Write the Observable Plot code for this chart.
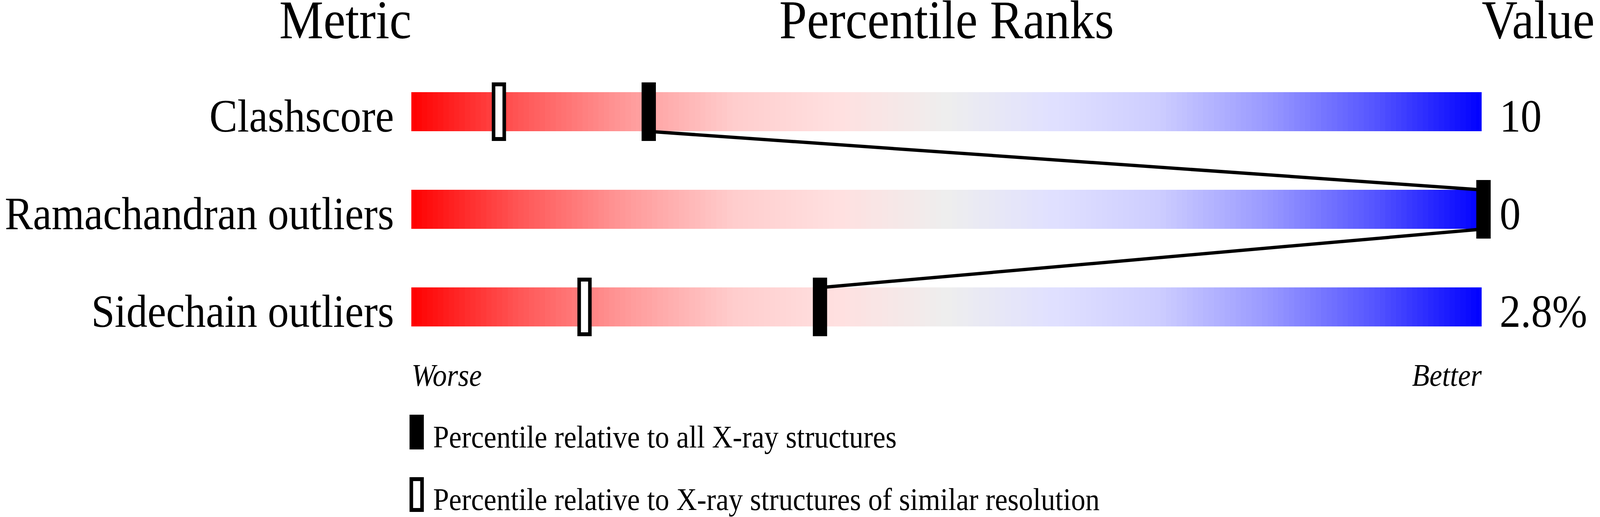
<!DOCTYPE html>
<html>
<head>
<meta charset="utf-8">
<script src="https://cdn.jsdelivr.net/npm/d3@7"></script>
<script src="https://cdn.jsdelivr.net/npm/@observablehq/plot@0.6"></script>
<style>
  html, body { margin: 0; padding: 0; background: #fff; overflow: hidden; }
  #wrap { position: absolute; left: 0; top: 0; width: 4485px; height: 1324px; overflow: hidden; background: #fff;
          font-family: "Liberation Serif", "Times New Roman", serif; transform-origin: 0 0; }
  #wrap svg { position: absolute; left: 0; top: 0; }
  .lg-box { position: absolute; box-sizing: border-box; width: 40px; height: 89px; }
  .lg-text { position: absolute; font-size: 80px; line-height: 80px; white-space: nowrap; color: #000; }
</style>
</head>
<body>
<div id="wrap"></div>
<script>
// ---- data ----
const metrics = ["Clashscore", "Ramachandran outliers", "Sidechain outliers"];
const values = ["10", "0", "2.8%"];
const pctAll = [22, 100, 38];       // percentile relative to all X-ray structures
const pctSimilar = [8, 100, 16];    // percentile relative to similar resolution
const headers = ["Metric", "Percentile Ranks", "Value"];
const scaleEnds = ["Worse", "Better"];
const legendLabels = [
  "Percentile relative to all X-ray structures",
  "Percentile relative to X-ray structures of similar resolution"
];
const gradientStops = [0, 10, 20, 30, 40, 50, 60, 70, 80, 90, 100];
const gradientColors = ["#ff0000", "#ff5555", "#ff9999", "#ffcccc", "#ffe0e0", "#eeeeee",
                        "#e0e0ff", "#ccccff", "#9999ff", "#5555ff", "#0000ff"];

// ---- derived tables ----
const rows = metrics.map((m, i) => ({metric: m, row: i, value: values[i], all: pctAll[i], similar: pctSimilar[i]}));
const step = 0.5;
const cells = rows.flatMap(r => d3.range(0, 100, step).map(p => ({row: r.row, p0: p, p1: p + step, c: p + step / 2})));
const links = rows.slice(0, -1).map((r, i) => ({x1: r.all, y1: r.row + 0.7, x2: rows[i + 1].all, y2: rows[i + 1].row + 0.3}));

const font = "Liberation Serif, Times New Roman, serif";
const W = 4485, H = 1324;

const chart = Plot.plot({
  width: W,
  height: 1010,
  marginLeft: 1153,
  marginRight: 332,
  marginTop: 161,
  marginBottom: 99,
  style: {fontFamily: font, background: "white", color: "black", overflow: "visible", maxWidth: "none"},
  x: {domain: [0, 100], axis: null},
  y: {domain: [0, 3], reverse: true, axis: null},
  color: {type: "linear", domain: gradientStops, range: gradientColors, interpolate: "rgb"},
  marks: [
    // gradient bars
    Plot.rect(cells, {x1: "p0", x2: "p1", y1: d => d.row + 0.3, y2: d => d.row + 0.7, fill: "c", shapeRendering: "crispEdges"}),
    // connecting line between "all" markers
    Plot.link(links, {x1: "x1", y1: "y1", x2: "x2", y2: "y2", stroke: "black", strokeWidth: 8.5, dx: 5}),
    // open markers (similar resolution)
    Plot.ruleX(rows, {x: "similar", y1: d => d.row + 0.2, y2: d => d.row + 0.8, stroke: "black", strokeWidth: 40, dx: 5}),
    Plot.ruleX(rows, {x: "similar", y1: d => d.row + 0.24, y2: d => d.row + 0.76, stroke: "white", strokeWidth: 20, dx: 5}),
    // filled markers (all structures)
    Plot.ruleX(rows, {x: "all", y1: d => d.row + 0.2, y2: d => d.row + 0.8, stroke: "black", strokeWidth: 40, dx: 5}),
    // metric labels
    Plot.text(rows, {x: d => 0, y: d => d.row + 0.7, text: "metric", textAnchor: "end", lineAnchor: "bottom",
                     dx: -49, fontSize: 118, fill: "black"}),
    // values
    Plot.text(rows, {x: d => 100, y: d => d.row + 0.7, text: "value", textAnchor: "start", lineAnchor: "bottom",
                     dx: 50, fontSize: 118, fill: "black"}),
    // headers
    Plot.text([headers[0]], {x: d => 0, frameAnchor: "top", text: d => d, textAnchor: "end", lineAnchor: "bottom", dy: -64, fontSize: 139, fill: "black"}),
    Plot.text([headers[1]], {x: d => 50, frameAnchor: "top", text: d => d, textAnchor: "middle", lineAnchor: "bottom", dy: -64, fontSize: 139, fill: "black"}),
    Plot.text([headers[2]], {x: d => 100, frameAnchor: "top", text: d => d, textAnchor: "start", lineAnchor: "bottom", dy: -64, fontSize: 139, fill: "black"}),
    // worse / better
    Plot.text([scaleEnds[0]], {x: d => 0, frameAnchor: "bottom", text: d => d, textAnchor: "start", lineAnchor: "bottom", dy: 76, fontSize: 80, fontStyle: "italic", fill: "black"}),
    Plot.text([scaleEnds[1]], {x: d => 100, frameAnchor: "bottom", text: d => d, textAnchor: "end", lineAnchor: "bottom", dy: 76, fontSize: 80, fontStyle: "italic", fill: "black"})
  ]
});

const wrap = document.getElementById("wrap");
wrap.appendChild(chart);

// ---- legend (HTML, below the SVG) ----
const legendStyles = [
  {boxTop: 1062, filled: true},
  {boxTop: 1222, filled: false}
];
legendLabels.forEach((label, i) => {
  const s = legendStyles[i];
  const box = document.createElement("div");
  box.className = "lg-box";
  box.style.left = "1148px";
  box.style.top = s.boxTop + "px";
  if (s.filled) box.style.background = "#000";
  else { box.style.background = "#fff"; box.style.border = "10px solid #000"; }
  wrap.appendChild(box);
  const t = document.createElement("div");
  t.className = "lg-text";
  t.style.left = "1214px";
  t.style.top = (s.boxTop + 84 - 67) + "px";
  t.textContent = label;
  wrap.appendChild(t);
});

// fit the 4485x1324 layout into the actual viewport
function fit() {
  const sx = Math.min(1, window.innerWidth / W);
  const sy = Math.min(1, window.innerHeight / H);
  wrap.style.transform = `scale(${sx}, ${sy})`;
}
fit();
window.addEventListener("resize", fit);
</script>
</body>
</html>
